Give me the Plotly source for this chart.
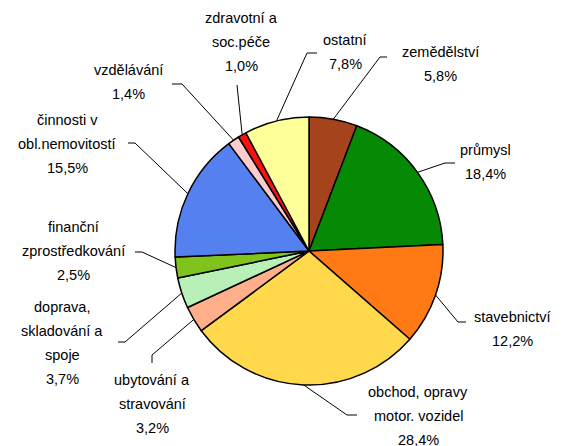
import math
import plotly.graph_objects as go

# ---- data ----
categories = ["zemědělství", "průmysl", "stavebnictví", "obchod, opravy motor. vozidel",
              "ubytování a stravování", "doprava, skladování a spoje",
              "finanční zprostředkování", "činnosti v obl.nemovitostí",
              "vzdělávání", "zdravotní a soc.péče", "ostatní"]
values = [5.8, 18.4, 12.2, 28.4, 3.2, 3.7, 2.5, 15.5, 1.4, 1.0, 7.8]
label_lines = [
    ["zemědělství"],
    ["průmysl"],
    ["stavebnictví"],
    ["obchod, opravy", "motor. vozidel"],
    ["ubytování a", "stravování"],
    ["doprava,", "skladování a", "spoje"],
    ["finanční", "zprostředkování"],
    ["činnosti v", "obl.nemovitostí"],
    ["vzdělávání"],
    ["zdravotní a", "soc.péče"],
    ["ostatní"],
]
colors = ["#A5441C", "#068A06", "#FF7A14", "#FFD84C", "#FFB08A", "#B8F0B8",
          "#7FC31C", "#5580F0", "#FFCCCC", "#FF1010", "#FFFF99"]

# ---- layout (page pixels) ----
W, H = 565, 446
OFF = 8  # page body margin
CX, CY, R = 309, 251, 134
label_pos = [(440, 52), (485, 150), (513, 317), (418, 392), (152, 380), (62, 307),
             (73, 227), (67, 120), (128, 70), (241, 18), (345, 40)]
LSTEP = 24
elbows = [(380, 57), (445, 163), (458, 322), (347, 415), (152, 355), (125, 342),
          (142, 252), (135, 143), (182, 84), (237, 85), (307, 53)]
ends = [(387, 57), (455, 163), (466, 322), (357, 415), (152, 363), (118, 342),
        (135, 252), (128, 143), (172, 84), (237, 85), (317, 53)]


def px(x):
    return (x - OFF) / W


def py(y):
    return 1 - (y - OFF) / H


fig = go.Figure(go.Pie(
    labels=categories, values=values, sort=False, direction="clockwise",
    rotation=0, textinfo="none", hoverinfo="label+percent",
    marker=dict(colors=colors, line=dict(color="black", width=1.5)),
    domain=dict(x=[px(CX - R), px(CX + R)], y=[py(CY + R), py(CY - R)]),
    showlegend=False,
))

total = sum(values)
shapes = []
annotations = []
cum = 0.0
for i, v in enumerate(values):
    mid = (cum + v / 2) / total * 2 * math.pi
    cum += v
    ex = CX + R * math.sin(mid)
    ey = CY - R * math.cos(mid)
    bx, by = elbows[i]
    tx, ty = ends[i]
    path = f"M {px(ex)},{py(ey)} L {px(bx)},{py(by)} L {px(tx)},{py(ty)}"
    shapes.append(dict(type="path", path=path, xref="paper", yref="paper",
                       line=dict(color="black", width=1)))
    lx, ly = label_pos[i]
    lines = label_lines[i] + [f"{v:.1f}".replace(".", ",") + "%"]
    for j, t in enumerate(lines):
        annotations.append(dict(x=px(lx), y=py(ly + j * LSTEP), xref="paper", yref="paper",
                                text=t, showarrow=False, xanchor="center", yanchor="middle",
                                font=dict(family="Liberation Sans, Arial", size=14.5, color="black")))

fig.update_layout(width=W, height=H, margin=dict(l=0, r=0, t=0, b=0),
                  paper_bgcolor="white", plot_bgcolor="white",
                  shapes=shapes, annotations=annotations)
fig.write_html("out.html")
